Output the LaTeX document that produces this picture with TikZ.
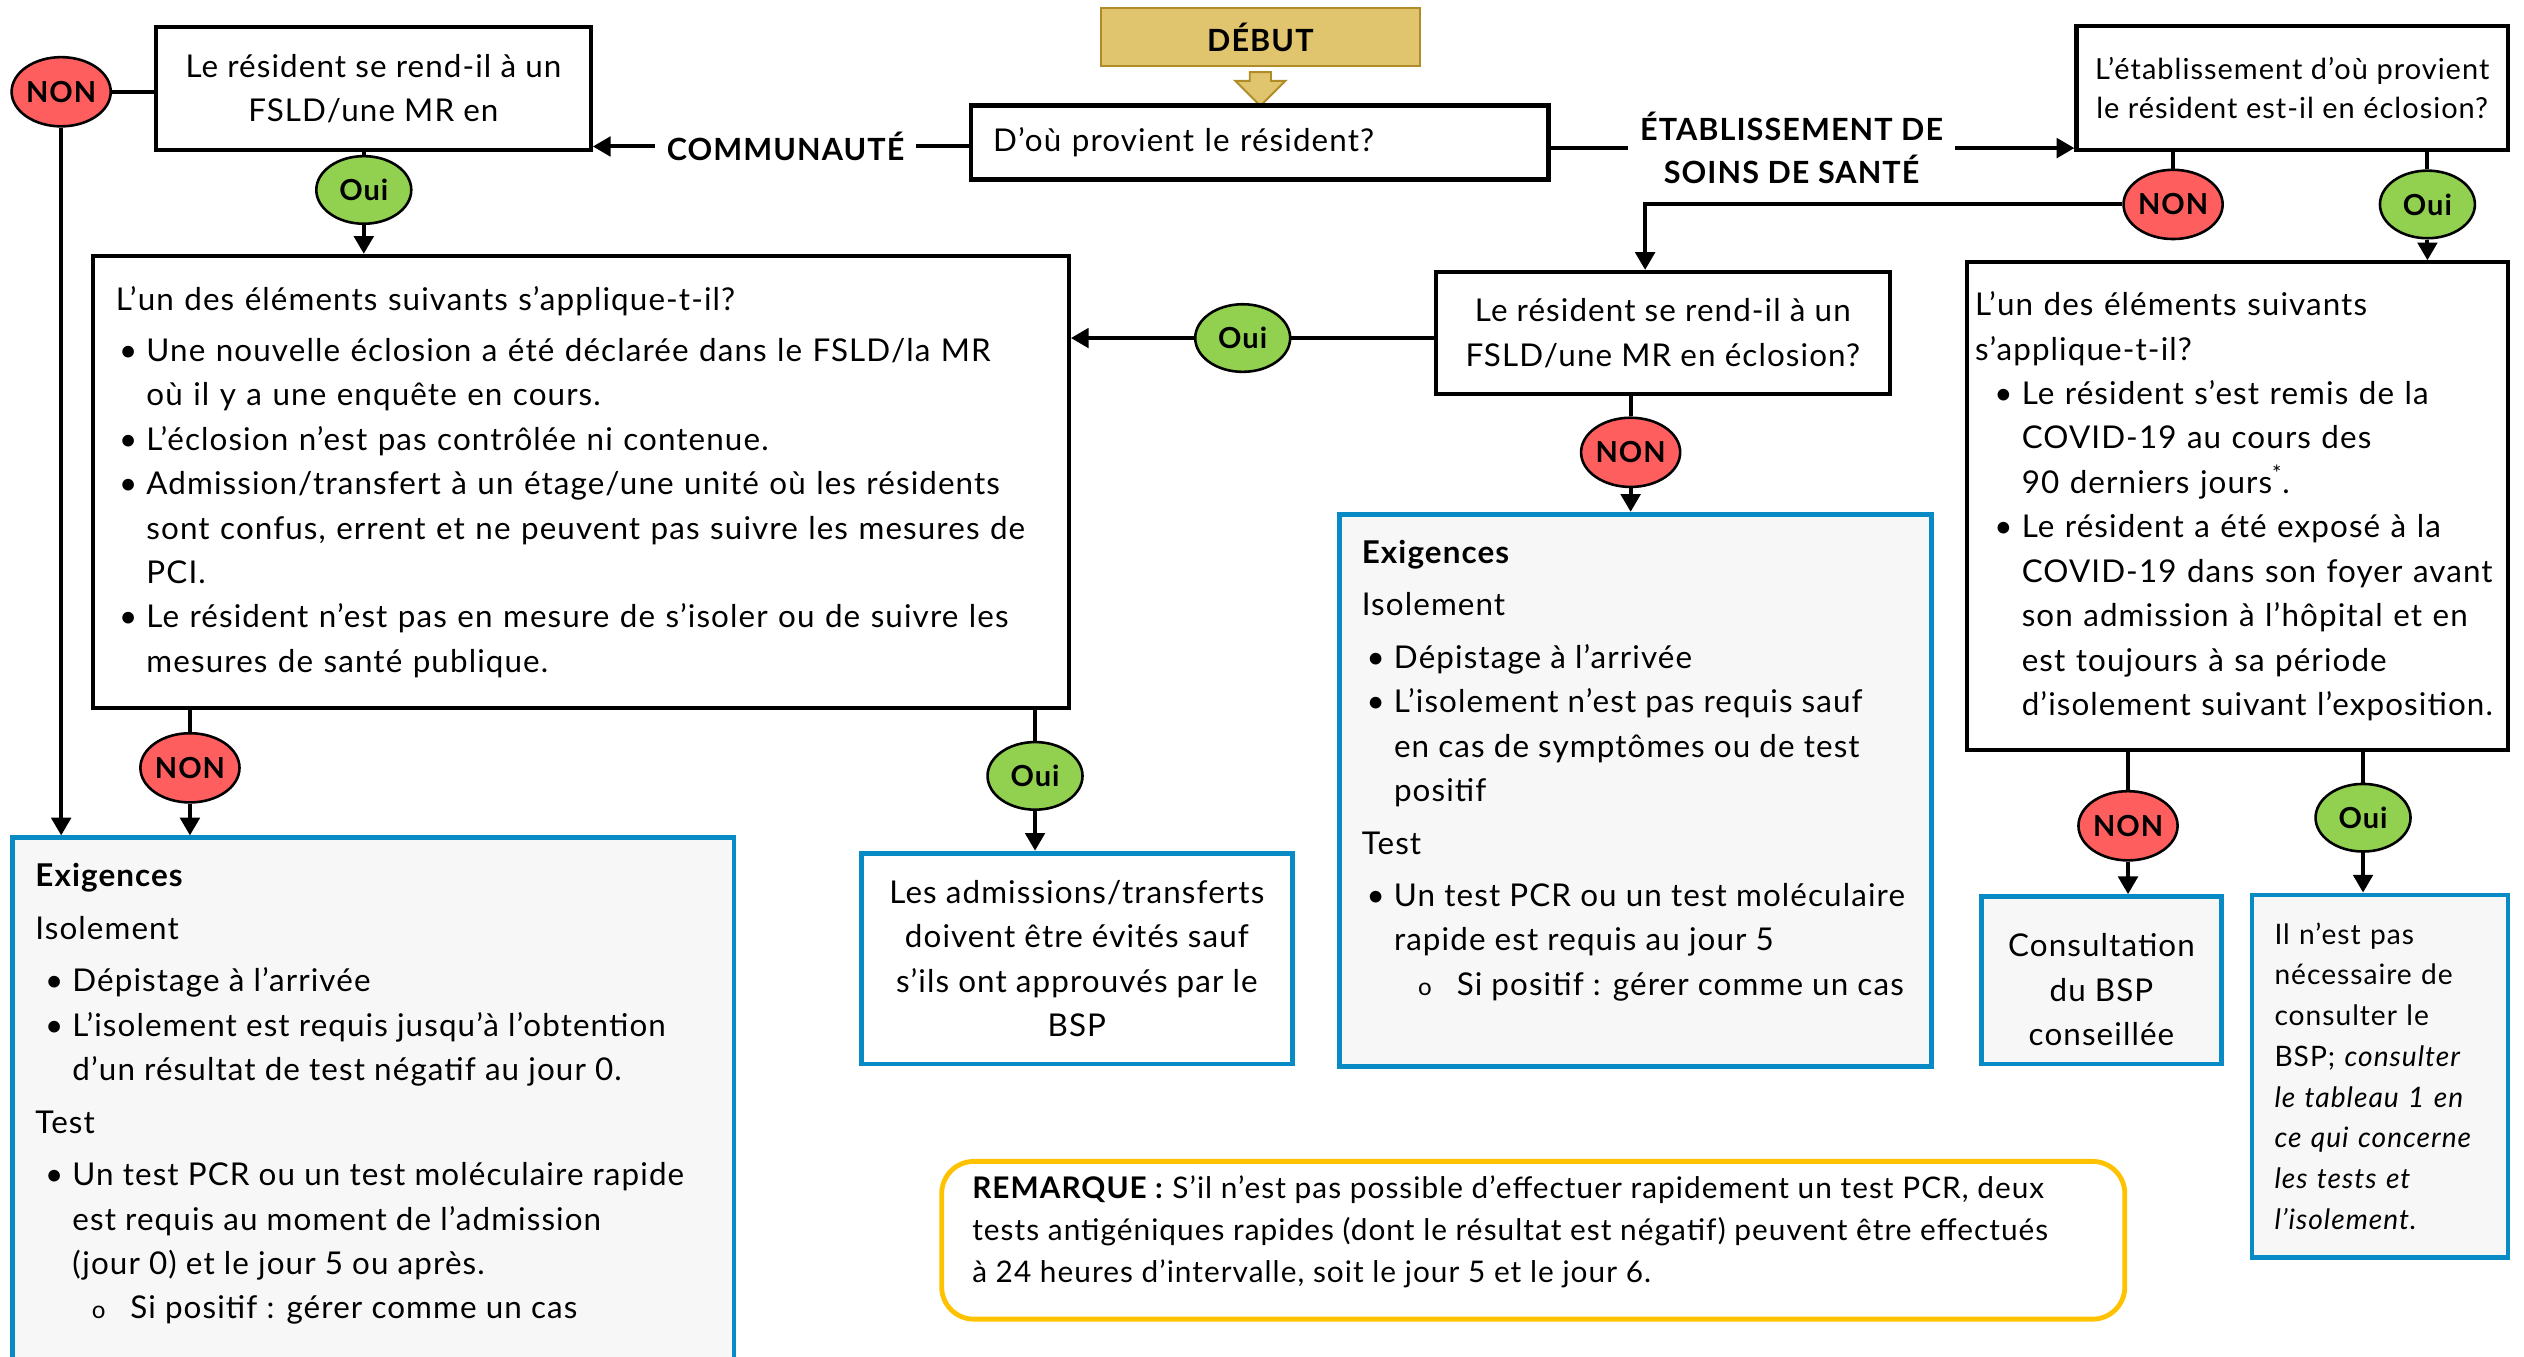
\documentclass[tikz,border=0pt]{standalone}
\usepackage{fontspec}
\setmainfont{Lato}[LetterSpace=3.5]
\usetikzlibrary{arrows.meta,shapes.geometric,shapes.arrows}

\definecolor{nonrouge}{RGB}{255,94,94}
\definecolor{ouivert}{RGB}{146,208,80}
\definecolor{debutor}{RGB}{224,196,110}
\definecolor{debutbord}{RGB}{176,140,40}
\definecolor{bleuexig}{RGB}{8,138,196}
\definecolor{grisfond}{RGB}{247,247,247}
\definecolor{jauneremarque}{RGB}{255,194,0}

\newcommand{\puce}[2]{\hspace*{#1}\makebox[#2][l]{\textbullet}}
\newcommand{\retrait}[1]{\hspace*{#1}}
\newcommand{\souspuce}{\hspace*{35pt}\makebox[24pt][l]{\fontsize{15}{15}\selectfont o}}
\newcommand{\cadre}[3]{\begin{minipage}[t][#1][t]{#2}#3\end{minipage}}

\begin{document}
\begin{tikzpicture}[x=1pt,y=-1pt,>={Triangle[length=11pt,width=12pt]},line width=2.5pt,
  font=\fontsize{19.5}{27.6}\selectfont,
  question/.style={draw,line width=2.6pt,fill=white,align=center,inner sep=0pt},
  repnon/.style={ellipse,draw,line width=1.6pt,fill=nonrouge,inner sep=0pt,
    minimum width=59pt,minimum height=43pt,font=\fontsize{18}{18}\selectfont\bfseries},
  repoui/.style={repnon,fill=ouivert,minimum height=42pt},
  exig/.style={draw=bleuexig,line width=3pt,fill=grisfond,inner xsep=14pt,inner ysep=16pt},
  etiquette/.style={font=\fontsize{19}{27}\selectfont\bfseries,align=center,inner xsep=6pt,inner ysep=0pt}]
  \useasboundingbox (0,0) rectangle (1568,843);

  % depart
  \node[draw=debutbord,line width=1.4pt,fill=debutor,minimum width=198pt,minimum height=36pt,
    font=\fontsize{19}{19}\selectfont\bfseries] (debut) at (783,23) {DÉBUT};
  \node[single arrow,draw=debutbord,line width=1.2pt,fill=debutor,shape border rotate=270,
    inner sep=6pt,minimum height=21pt,minimum width=30pt,single arrow head extend=9pt] (debutfleche) at (783,52) {};
  \node[question,align=left,minimum width=359pt,minimum height=46pt,text width=331pt] (provenance) at (782.5,88.5)
    {D’où provient le résident?};

  % communaute
  \node[etiquette] (communaute) at (488,91) {COMMUNAUTÉ};
  \node[question,minimum width=270pt,minimum height=76pt] (q1) at (232,55)
    {Le résident se rend-il à un\\FSLD/une MR en};
  \node[repnon] (nonq1) at (38,57) {NON};
  \node[repoui] (ouiq1) at (226,118) {Oui};

  \node[question,align=left,minimum width=606pt,minimum height=281pt,text width=578pt] (boxA) at (361,299.5)
    {L’un des éléments suivants s’applique-t-il?\\[4pt]
     \puce{2pt}{17pt}Une nouvelle éclosion a été déclarée dans le FSLD/la MR\\
     \retrait{19pt}où il y a une enquête en cours.\\
     \puce{2pt}{17pt}L’éclosion n’est pas contrôlée ni contenue.\\
     \puce{2pt}{17pt}Admission/transfert à un étage/une unité où les résidents\\
     \retrait{19pt}sont confus, errent et ne peuvent pas suivre les mesures de\\
     \retrait{19pt}PCI.\\
     \puce{2pt}{17pt}Le résident n’est pas en mesure de s’isoler ou de suivre les\\
     \retrait{19pt}mesures de santé publique.};
  \node[repnon] (nonA) at (118,477) {NON};
  \node[repoui] (ouiA) at (643,482) {Oui};

  \node[exig,anchor=north] (exigG) at (232,519)
    {\cadre{340pt}{420pt}{\textbf{Exigences}\\[5pt]
     Isolement\\[5pt]
     \puce{6pt}{17pt}Dépistage à l’arrivée\\
     \puce{6pt}{17pt}L’isolement est requis jusqu’à l’obtention\\
     \retrait{23pt}d’un résultat de test négatif au jour 0.\\[5pt]
     Test\\[5pt]
     \puce{6pt}{17pt}Un test PCR ou un test moléculaire rapide\\
     \retrait{23pt}est requis au moment de l’admission\\
     \retrait{23pt}(jour 0) et le jour 5 ou après.\\
     \souspuce Si positif : gérer comme un cas}};
  \node[draw=bleuexig,line width=3pt,fill=white,align=center,inner sep=0pt,
    minimum width=268pt,minimum height=131pt] (admissions) at (669,595.5)
    {Les admissions/transferts\\doivent être évités sauf\\s’ils ont approuvés par le\\BSP};

  % etablissement de soins
  \node[etiquette] (etabsoins) at (1113,92) {ÉTABLISSEMENT DE\\SOINS DE SANTÉ};
  \node[question,minimum width=268pt,minimum height=77pt,font=\fontsize{18}{24}\selectfont] (etab) at (1424,54.5)
    {L’établissement d’où provient\\le résident est-il en éclosion?};
  \node[repnon] (nonR) at (1350,127) {NON};
  \node[repoui] (ouiR) at (1508,127) {Oui};

  \node[question,minimum width=282pt,minimum height=76pt] (boxM) at (1033,207)
    {Le résident se rend-il à un\\FSLD/une MR en éclosion?};
  \node[repoui] (ouiM) at (772,210) {Oui};
  \node[repnon] (nonM) at (1013,281) {NON};
  \node[exig,anchor=north] (exigM) at (1016,318)
    {\cadre{311pt}{340pt}{\textbf{Exigences}\\[5pt]
     Isolement\\[5pt]
     \puce{3pt}{17pt}Dépistage à l’arrivée\\
     \puce{3pt}{17pt}L’isolement n’est pas requis sauf\\
     \retrait{20pt}en cas de symptômes ou de test\\
     \retrait{20pt}positif\\[5pt]
     Test\\[5pt]
     \puce{3pt}{17pt}Un test PCR ou un test moléculaire\\
     \retrait{20pt}rapide est requis au jour 5\\
     \souspuce Si positif : gérer comme un cas}};

  \node[question,align=left,minimum width=336pt,minimum height=303pt,text width=326pt] (boxN) at (1390,314.5)
    {L’un des éléments suivants\\
     s’applique-t-il?\\
     \puce{12pt}{17pt}Le résident s’est remis de la\\
     \retrait{29pt}COVID-19 au cours des\\
     \retrait{29pt}90 derniers jours\textsuperscript{*}.\\
     \puce{12pt}{17pt}Le résident a été exposé à la\\
     \retrait{29pt}COVID-19 dans son foyer avant\\
     \retrait{29pt}son admission à l’hôpital et en\\
     \retrait{29pt}est toujours à sa période\\
     \retrait{29pt}d’isolement suivant l’exposition.};
  \node[repnon] (nonN) at (1322,513) {NON};
  \node[repoui] (ouiN) at (1468,508) {Oui};
  \node[exig,align=center,inner sep=0pt,minimum width=149pt,minimum height=104pt] (consult) at (1305.5,609)
    {\rule{0pt}{26pt}Consultation\\du BSP\\conseillée};
  \node[exig,align=left,inner ysep=0pt,minimum width=159pt,minimum height=225pt,text width=131pt,
    font=\fontsize{17.5}{25.3}\selectfont] (pasnec) at (1478.5,668.5)
    {Il n’est pas\\nécessaire de\\consulter le\\BSP; \textit{consulter}\\\textit{le tableau 1 en}\\
     \textit{ce qui concerne}\\\textit{les tests et}\\\textit{l’isolement.}};

  % remarque
  \node[draw=jauneremarque,line width=3pt,fill=white,rounded corners=20pt,inner xsep=19pt,inner ysep=9pt,
    anchor=north,font=\fontsize{18.5}{26}\selectfont] (remarque) at (952.5,720)
    {\cadre{80pt}{697pt}{\textbf{REMARQUE :} S’il n’est pas possible d’effectuer rapidement un test PCR, deux\\
     tests antigéniques rapides (dont le résultat est négatif) peuvent être effectués\\
     à 24 heures d’intervalle, soit le jour 5 et le jour 6.}};

  % connecteurs
  \draw (provenance.west |- communaute.east) -- (communaute.east);
  \draw[->] (communaute.west) -- (q1.east |- communaute.west);
  \draw (q1.west |- nonq1.east) -- (nonq1.east);
  \draw[->] (nonq1.south) -- (nonq1 |- exigG.north);
  \draw (q1.south -| ouiq1) -- (ouiq1.north);
  \draw[->] (ouiq1.south) -- (ouiq1 |- boxA.north);
  \draw (boxA.south -| nonA) -- (nonA.north);
  \draw[->] (nonA.south) -- (nonA |- exigG.north);
  \draw (boxA.south -| ouiA) -- (ouiA.north);
  \draw[->] (ouiA.south) -- (ouiA |- admissions.north);

  \draw (provenance.east |- etabsoins.west) -- (etabsoins.west);
  \draw[->] (etabsoins.east) -- (etabsoins.east -| etab.west);
  \draw (etab.south -| nonR) -- (nonR.north);
  \draw[->] (nonR.west) -| ([xshift=-11pt]boxM.north);
  \draw (etab.south -| ouiR) -- (ouiR.north);
  \draw[->] (ouiR.south) -- (ouiR |- boxN.north);
  \draw (boxM.west |- ouiM.east) -- (ouiM.east);
  \draw[->] (ouiM.west) -- (boxA.east |- ouiM.west);
  \draw (boxM.south -| nonM) -- (nonM.north);
  \draw[->] (nonM.south) -- (nonM |- exigM.north);
  \draw (boxN.south -| nonN) -- (nonN.north);
  \draw[->] (nonN.south) -- (nonN |- consult.north);
  \draw (boxN.south -| ouiN) -- (ouiN.north);
  \draw[->] (ouiN.south) -- (ouiN |- pasnec.north);
\end{tikzpicture}
\end{document}
